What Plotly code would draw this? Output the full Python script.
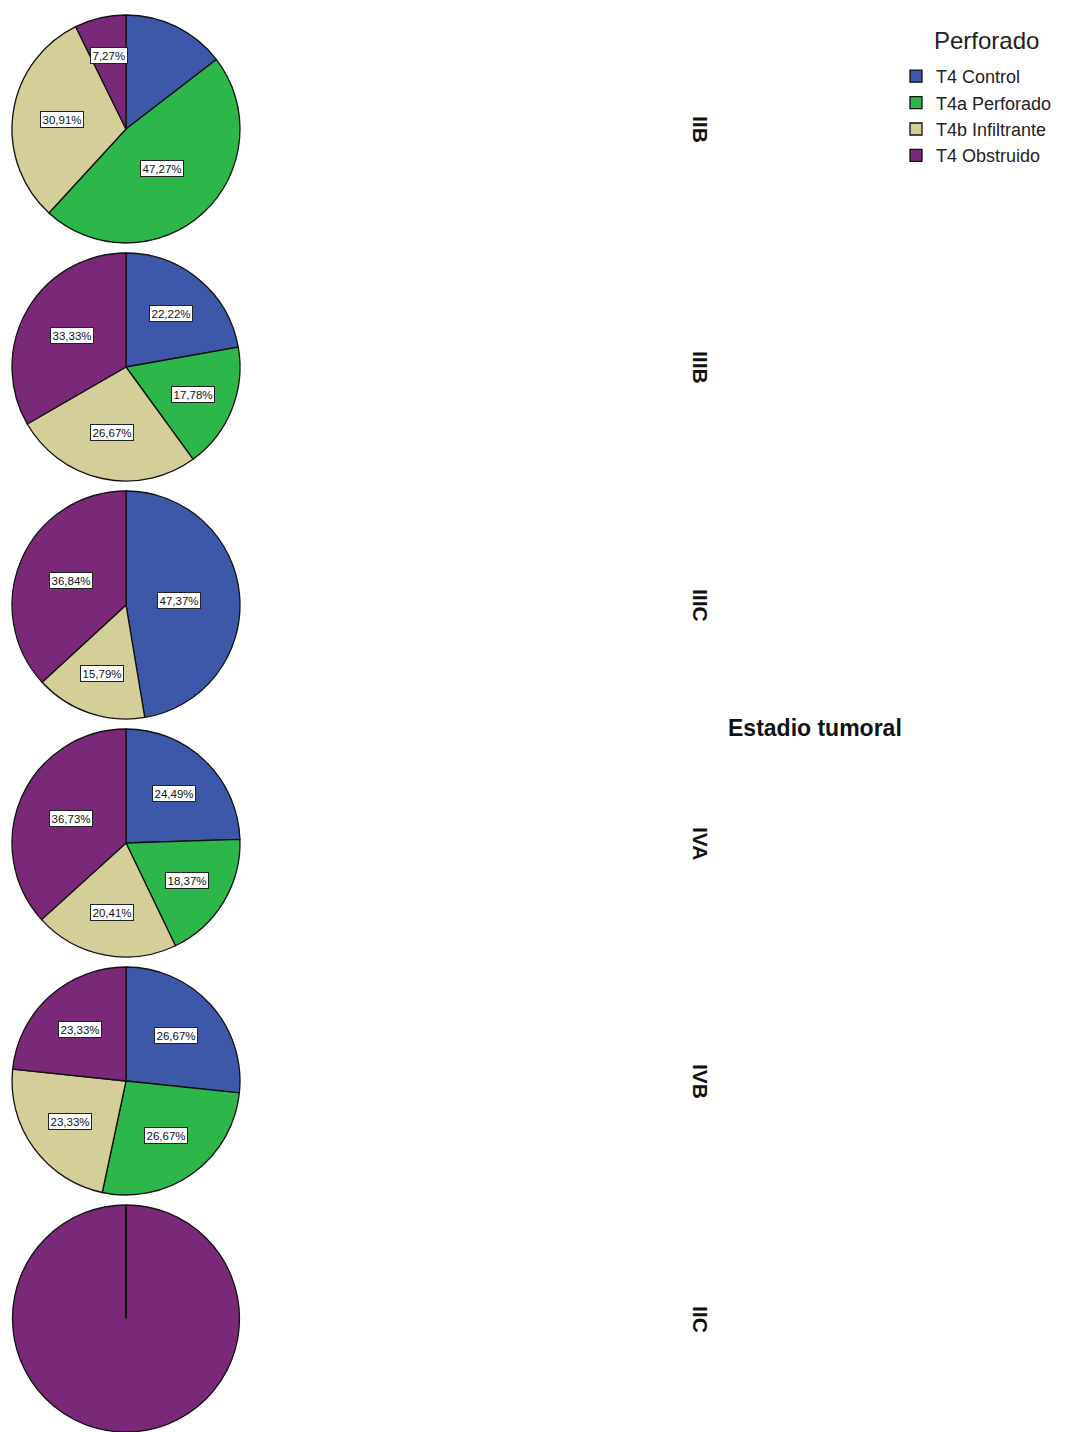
import math
import plotly.graph_objects as go

# Categories and percentages per tumour stage
estadios = ["IIB", "IIIB", "IIIC", "IVA", "IVB", "IIC"]
categorias = ["T4 Control", "T4a Perforado", "T4b Infiltrante", "T4 Obstruido"]
colores = ["#3D57A9", "#2DB74A", "#D4CE98", "#7A2878"]

pct_IIB = [14.55, 47.27, 30.91, 7.27]
pct_IIIB = [22.22, 17.78, 26.67, 33.33]
pct_IIIC = [47.37, 0.0, 15.79, 36.84]
pct_IVA = [24.49, 18.37, 20.41, 36.73]
pct_IVB = [26.67, 26.67, 23.33, 23.33]
pct_IIC = [0.0, 0.0, 0.0, 100.0]

valores = [pct_IIB, pct_IIIB, pct_IIIC, pct_IVA, pct_IVB, pct_IIC]

# Slices whose percentage box is not printed
sin_etiqueta = {("IIB", "T4 Control"), ("IIC", "T4 Obstruido")}

# Page geometry (pixels)
W, H = 1065, 1432
CX = 126          # pie centre, x
CY0 = 129         # first pie centre, y
PASO = 238        # vertical distance between pies
R = 114           # pie radius
X_ROT = 701       # x of the rotated stage labels

fig = go.Figure()
anotaciones = []
formas = []


def px_x(x):
    return x / W


def px_y(y):
    return 1 - y / H


for i, (est, vals) in enumerate(zip(estadios, valores)):
    cy = CY0 + PASO * i
    y0 = max(0.0, px_y(cy + R))
    y1 = min(1.0, px_y(cy - R))
    cy_real = (1 - (y0 + y1) / 2) * H
    r_real = min(2 * R, (y1 - y0) * H) / 2

    labs = [c for c, v in zip(categorias, vals) if v > 0]
    vs = [v for v in vals if v > 0]
    cols = [col for col, v in zip(colores, vals) if v > 0]

    fig.add_trace(go.Pie(
        labels=labs,
        values=vs,
        sort=False,
        direction="clockwise",
        rotation=0,
        marker=dict(colors=cols, line=dict(color="#111111", width=1.3)),
        textinfo="none",
        hoverinfo="skip",
        domain=dict(x=[px_x(CX - R), px_x(CX + R)], y=[y0, y1]),
        showlegend=True,
        name=est,
    ))

    # Percentage boxes placed at each slice's centroid
    total = sum(vs)
    acum = 0.0
    for lab, v in zip(labs, vs):
        frac = v / total
        medio = (acum + frac / 2) * 2 * math.pi
        acum += frac
        if (est, lab) in sin_etiqueta:
            continue
        alfa = frac * math.pi
        k = 2 * math.sin(alfa) / (3 * alfa)
        k = min(max(k, 0.47), 0.70)
        x = CX + k * r_real * math.sin(medio)
        y = cy_real - k * r_real * math.cos(medio)
        texto = f"{v:.2f}".replace(".", ",") + "%"
        anotaciones.append(dict(
            x=px_x(x), y=px_y(y), xref="paper", yref="paper",
            text=texto, showarrow=False,
            font=dict(family="Liberation Sans, Arial", size=11.5, color="#111111"),
            bgcolor="white", bordercolor="#222222", borderwidth=1, borderpad=1.5,
            xanchor="center", yanchor="middle",
        ))

    # A full single-category pie still shows its starting radius
    if len(vs) == 1:
        formas.append(dict(
            type="line", xref="paper", yref="paper",
            x0=px_x(CX), y0=px_y(cy_real), x1=px_x(CX), y1=px_y(cy_real - r_real),
            line=dict(color="#111111", width=2),
        ))

    # Stage name, rotated
    anotaciones.append(dict(
        x=px_x(X_ROT), y=px_y(cy), xref="paper", yref="paper",
        text=f"<b>{est}</b>", showarrow=False, textangle=90,
        font=dict(family="Liberation Sans, Arial", size=21, color="#111111"),
        xanchor="center", yanchor="middle",
    ))

anotaciones.append(dict(
    x=px_x(815), y=px_y(728), xref="paper", yref="paper",
    text="<b>Estadio tumoral</b>", showarrow=False,
    font=dict(family="Liberation Sans, Arial", size=23, color="#111111"),
    xanchor="center", yanchor="middle",
))

# Legend heading
anotaciones.append(dict(
    x=px_x(986), y=px_y(40), xref="paper", yref="paper",
    text="Perforado", showarrow=False,
    font=dict(family="Liberation Sans, Arial", size=24, color="#222222"),
    xanchor="center", yanchor="middle",
))

fig.update_layout(
    width=W, height=H,
    margin=dict(l=0, r=0, t=0, b=0),
    paper_bgcolor="white",
    plot_bgcolor="white",
    annotations=anotaciones,
    shapes=formas,
    legend=dict(
        font=dict(family="Liberation Sans, Arial", size=18, color="#222222"),
        x=px_x(896), y=px_y(58), xanchor="left", yanchor="top",
        tracegroupgap=0, itemwidth=30,
        bgcolor="rgba(0,0,0,0)",
    ),
)

fig.write_html("out.html")
